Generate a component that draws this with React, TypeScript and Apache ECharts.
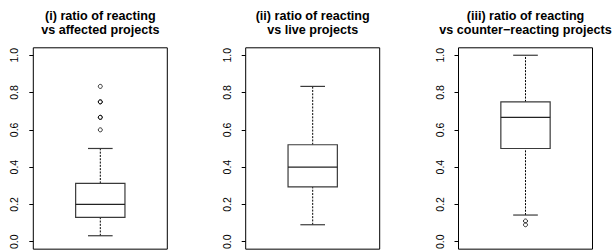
import React, { useEffect, useRef } from "react";
import * as echarts from "echarts";

const categories = ["affected", "live", "counter-reacting"];
const titleLine1 = ["(i) ratio of reacting", "(ii) ratio of reacting", "(iii) ratio of reacting"];
const titleLine2 = ["vs affected projects", "vs live projects", "vs counter\u2212reacting projects"];
const whiskerLow = [0.032, 0.091, 0.143];
const quartile1 = [0.13, 0.294, 0.5];
const medians = [0.2, 0.4, 0.667];
const quartile3 = [0.313, 0.52, 0.75];
const whiskerHigh = [0.5, 0.833, 1.0];
const outliers = [
  [0.6, 0.667, 0.667, 0.75, 0.75, 0.833],
  [],
  [0.091, 0.111],
];
const tickValues = [0, 0.2, 0.4, 0.6, 0.8, 1.0];

const FONT = "Liberation Sans, Arial, Helvetica, sans-serif";

export default function App() {
  const ref = useRef<HTMLDivElement>(null);
  useEffect(() => {
    if (!ref.current) return;
    const chart = echarts.init(ref.current, null, { renderer: "svg" });
    const lefts = [33.3, 245.7, 458.5];
    const width = 134;
    const top = 47.8;
    const height = 202;

    const grids = lefts.map((l) => ({
      left: l,
      top,
      width,
      height,
      show: true,
      borderColor: "#000",
      borderWidth: 1,
      backgroundColor: "transparent",
      containLabel: false,
    }));
    const xAxes = categories.map((c, i) => ({
      type: "category",
      gridIndex: i,
      data: [c],
      show: false,
      boundaryGap: true,
    }));
    const yAxes = categories.map((_, i) => ({
      type: "value",
      gridIndex: i,
      min: -0.04,
      max: 1.04,
      splitLine: { show: false },
      axisLine: { show: false },
      axisTick: {
        show: true,
        customValues: tickValues,
        length: 4,
        lineStyle: { color: "#000", width: 1 },
      },
      axisLabel: {
        show: true,
        customValues: tickValues,
        rotate: 90,
        margin: 13.5,
        fontFamily: FONT,
        fontSize: 10.5,
        color: "#000",
        formatter: (v: number) => v.toFixed(1),
      },
    }));

    const boxSeries = categories.map((c, i) => ({
      type: "custom",
      xAxisIndex: i,
      yAxisIndex: i,
      encode: { x: 0, y: [1, 2, 3, 4, 5] },
      data: [[0, whiskerLow[i], quartile1[i], medians[i], quartile3[i], whiskerHigh[i]]],
      renderItem: (params: any, api: any) => {
        const xv = api.value(0);
        const cx = api.coord([xv, 0])[0];
        const bw = api.size([1, 0])[0] * 0.368;
        const y = (k: number) => api.coord([xv, api.value(k)])[1];
        const yMin = y(1), yQ1 = y(2), yMed = y(3), yQ3 = y(4), yMax = y(5);
        const boxStroke = "#3a3a3a";
        const dash = { stroke: "#000", lineWidth: 1, lineDash: [2, 1.3] };
        const solid = { stroke: boxStroke, lineWidth: 1.2 };
        return {
          type: "group",
          children: [
            { type: "line", shape: { x1: cx, y1: yQ3, x2: cx, y2: yMax }, style: dash },
            { type: "line", shape: { x1: cx, y1: yMin, x2: cx, y2: yQ1 }, style: dash },
            { type: "line", shape: { x1: cx - bw / 4, y1: yMax, x2: cx + bw / 4, y2: yMax }, style: solid },
            { type: "line", shape: { x1: cx - bw / 4, y1: yMin, x2: cx + bw / 4, y2: yMin }, style: solid },
            {
              type: "rect",
              shape: { x: cx - bw / 2, y: yQ3, width: bw, height: yQ1 - yQ3 },
              style: { fill: "#fff", stroke: boxStroke, lineWidth: 1.2 },
            },
            { type: "line", shape: { x1: cx - bw / 2, y1: yMed, x2: cx + bw / 2, y2: yMed }, style: { stroke: "#222", lineWidth: 1.2 } },
          ],
        };
      },
    }));

    const outlierSeries = categories.map((_, i) => ({
      type: "scatter",
      xAxisIndex: i,
      yAxisIndex: i,
      symbol: "circle",
      symbolSize: 4,
      itemStyle: { color: "rgba(0,0,0,0)", borderColor: "#000", borderWidth: 1 },
      data: outliers[i].map((v) => [0, v]),
      z: 5,
    }));

    const centers = lefts.map((l) => l + width / 2);
    const graphics: any[] = [];
    centers.forEach((cx, i) => {
      graphics.push({
        type: "text",
        x: cx,
        y: 15.5,
        style: {
          text: titleLine1[i],
          font: `bold 12.6px ${FONT}`,
          fill: "#000",
          textAlign: "center",
          textVerticalAlign: "middle",
        },
      });
      graphics.push({
        type: "text",
        x: cx,
        y: 29.8,
        style: {
          text: titleLine2[i],
          font: `bold 12.6px ${FONT}`,
          fill: "#000",
          textAlign: "center",
          textVerticalAlign: "middle",
        },
      });
    });

    chart.setOption({
      animation: false,
      backgroundColor: "#fff",
      grid: grids,
      xAxis: xAxes,
      yAxis: yAxes,
      series: [...boxSeries, ...outlierSeries],
      graphic: graphics,
    } as any);
    return () => chart.dispose();
  }, []);
  return (
    <div
      ref={ref}
      style={{ position: "absolute", left: 0, top: 0, width: 616, height: 252 }}
    />
  );
}
